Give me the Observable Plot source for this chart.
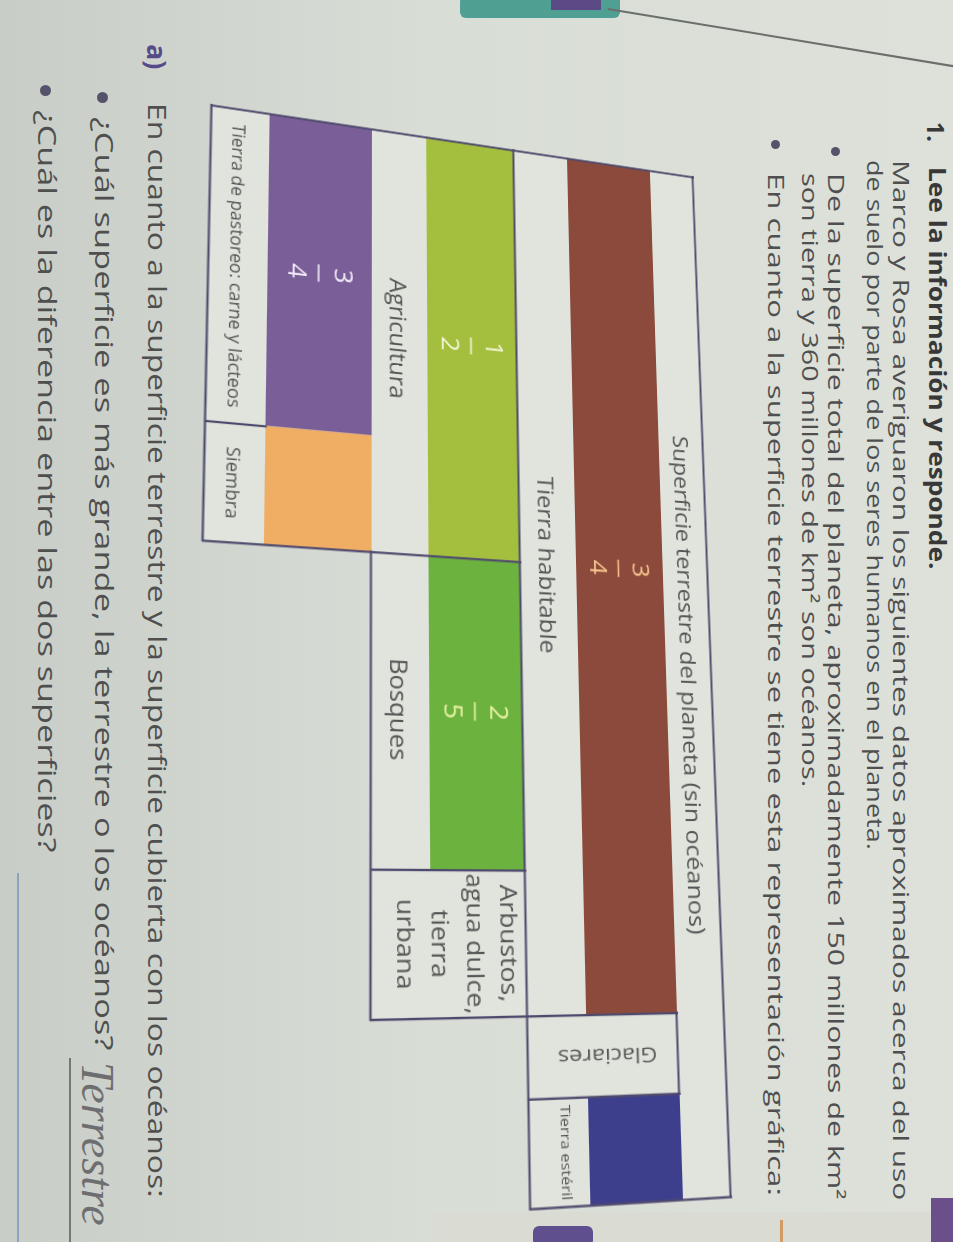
<!DOCTYPE html>
<html><head><meta charset="utf-8">
<script src="https://cdn.jsdelivr.net/npm/d3@7"></script>
<script src="https://cdn.jsdelivr.net/npm/@observablehq/plot@0.6"></script>
<style>
html,body{margin:0;padding:0;width:953px;height:1242px;overflow:hidden;background:#d3d8d1;}
#page{position:absolute;left:0;top:0;width:1242px;height:953px;transform-origin:0 0;transform:translate(953px,0) rotate(90deg);overflow:hidden;
 background:linear-gradient(to bottom,#dde1da 0%,#d8ddd6 55%,#c8cec7 100%);font-family:"Open Sans",sans-serif;color:#4e4e4e;}
.t{position:absolute;white-space:nowrap;}
.dot{position:absolute;border-radius:50%;background:#55536a;}
#chart{position:absolute;left:0;top:240px;}
</style></head><body><div id="page"></div>
<script>
// ---------- data ----------
const titulo = "Superficie terrestre del planeta (sin océanos)";
const superficie = ["Tierra habitable", "Glaciares", "Tierra estéril"];
const superficieParte = [0.835, 0.072, 0.093];
const superficieFraccion = ["3/4", "", ""];
const habitable = ["Agricultura", "Bosques", "Arbustos,\nagua dulce,\ntierra\nurbana"];
const habitableParte = [0.50, 0.345, 0.155];
const habitableFraccion = ["1/2", "2/5", ""];
const agricultura = ["Tierra de pastoreo: carne y lácteos", "Siembra"];
const agriculturaParte = [0.735, 0.265];
const agriculturaFraccion = ["3/4", ""];

// ---------- styles ----------
const colores = {
  "Tierra habitable": "#8b4a3b",
  "Tierra estéril": "#3d3f8d",
  "Agricultura": "#a4bf3e",
  "Bosques": "#6bb23f",
  "Tierra de pastoreo: carne y lácteos": "#7a5e98",
  "Siembra": "#f0ad64"
};
const colorFraccion = {
  "Tierra habitable": "#f6c48e",
  "Agricultura": "#f3f4d2",
  "Bosques": "#e8f2a2",
  "Tierra de pastoreo: carne y lácteos": "#f1e9f7"
};
const LINEA = "#4f4a6d", TEXTO = "#555555", CAJA = "#e0e4dd";

// ---------- page text ----------
const page = document.getElementById("page");
function txt(t, u, v, fs, opt = {}) {
  const d = document.createElement("div");
  d.className = "t";
  d.textContent = t;
  const lh = Math.round(fs * 1.3);
  Object.assign(d.style, {left: u + "px", top: (v - lh / 2) + "px", fontSize: fs + "px", lineHeight: lh + "px",
    fontWeight: opt.w || 400, color: opt.c || "#4f4f4f", fontStyle: opt.i ? "italic" : "normal", fontFamily: opt.f || ""});
  page.appendChild(d);
  if (opt.end) {
    const w = d.offsetWidth;
    d.style.transformOrigin = "0 50%";
    d.style.transform = `scaleX(${(opt.end - u) / w})`;
  }
  return d;
}
function dot(u, v, r) {
  const d = document.createElement("div");
  d.className = "dot";
  Object.assign(d.style, {left: (u - r) + "px", top: (v - r) + "px", width: 2 * r + "px", height: 2 * r + "px"});
  page.appendChild(d);
}
function box(u, v, w, h, css) {
  const d = document.createElement("div");
  Object.assign(d.style, {position: "absolute", left: u + "px", top: v + "px", width: w + "px", height: h + "px"}, css);
  page.appendChild(d);
  return d;
}

txt("1.", 122, 17, 23, {w: 700, c: "#383838"});
txt("Lee la información y responde.", 167, 15, 23, {w: 700, c: "#383838", end: 570});
txt("Marco y Rosa averiguaron los siguientes datos aproximados acerca del uso", 160, 51, 22, {end: 1200});
txt("de suelo por parte de los seres humanos en el planeta.", 160, 77, 22, {end: 850});
dot(151, 117, 4.5);
txt("De la superficie total del planeta, aproximadamente 150 millones de km²", 173, 116, 22, {end: 1200});
txt("son tierra y 360 millones de km² son océanos.", 173, 142, 22, {end: 787});
dot(144, 177, 4.5);
txt("En cuanto a la superficie terrestre se tiene esta representación gráfica:", 173, 176, 22, {end: 1195});
txt("a)", 44, 795, 27, {w: 700, c: "#564a88"});
txt("En cuanto a la superficie terrestre y la superficie cubierta con los océanos:", 103, 795, 26, {end: 1197});
dot(97, 850, 5.5);
txt("¿Cuál superficie es más grande, la terrestre o los océanos?", 117, 848, 26, {end: 1050});
dot(90, 907, 5.5);
txt("¿Cuál es la diferencia entre las dos superficies?", 110, 905, 26, {end: 853});
txt("Terrestre", 1062, 856, 46, {c: "#6e6e70", i: true, f: "'Liberation Serif', serif"});
box(1058, 882, 190, 2, {background: "#77777a"});
box(873, 934, 380, 1.5, {background: "#8aa3bf"});
// photo surroundings
box(1212, 0, 40, 520, {background: "#dadbd2"});
box(1220, 170, 30, 3, {background: "#d39a63"});
box(1228, 380, 30, 3, {background: "#d39a63"});
box(1226, 360, 20, 60, {background: "#5f4f8e", borderRadius: "6px"});
box(1198, 0, 50, 22, {background: "#6a4f8a"});
box(-4, 333, 22, 160, {background: "#4f9f92", borderRadius: "6px"});
box(-4, 352, 14, 50, {background: "#5b4a86"});
box(8, 345, 350, 1.5, {background: "#6b6f6b", transformOrigin: "0 0", transform: "rotate(-80.6deg)"});

// ---------- chart ----------
const CH_TOP = 240, CH_H = 505, XL = 135, XR = 1186;
const R = {header: [260, 307], bar1: [307, 395], label1: [395, 450], bar2: [450, 538],
           label2: [538, 591], bar3: [591, 688], label3: [688, 741]};
const mid = k => (R[k][0] + R[k][1]) / 2;

function tramos(names, parts, fracs, start, span, bar, label) {
  let acc = start;
  return names.map((name, i) => {
    const x1 = acc; acc += parts[i] * span;
    return {name, x1, x2: acc, mid: (x1 + acc) / 2, frac: fracs[i], bar, label};
  });
}
const L1 = tramos(superficie, superficieParte, superficieFraccion, 0, 1, "bar1", "label1");
const hab = L1[0], gla = L1[1];
const L2 = tramos(habitable, habitableParte, habitableFraccion, hab.x1, hab.x2 - hab.x1, "bar2", "label2");
const agr = L2[0], bos = L2[1];
const L3 = tramos(agricultura, agriculturaParte, agriculturaFraccion, agr.x1, agr.x2 - agr.x1, "bar3", "label3");
const pas = L3[0];
const todos = [...L1, ...L2, ...L3];
const barras = todos.filter(d => colores[d.name]);
const cajas = todos.filter(d => !colores[d.name]);
const etiquetas = barras.filter(d => d.name !== "Tierra estéril");
const esteril = barras.filter(d => d.name === "Tierra estéril");
const fracciones = todos.filter(d => d.frac);

const fondo = [
  {x1: 0, x2: 1, y1: R.header[0], y2: R.bar2[0]},
  {x1: 0, x2: hab.x2, y1: R.bar2[0], y2: R.label2[1]},
  {x1: 0, x2: agr.x2, y1: R.label2[1], y2: R.label3[1]}
];
const hLines = [
  {y: R.header[0], x1: 0, x2: 1},
  {y: R.bar2[0], x1: 0, x2: 1},
  {y: R.bar1[0], x1: gla.x1, x2: gla.x2},
  {y: R.label2[1], x1: agr.x2, x2: hab.x2},
  {y: R.label3[1], x1: 0, x2: agr.x2}
];
const vLines = [
  {x: 0, y1: R.header[0], y2: R.label3[1]},
  {x: 1, y1: R.header[0], y2: R.bar2[0]},
  {x: gla.x1, y1: R.bar1[0], y2: R.label2[1]},
  {x: gla.x2, y1: R.bar1[0], y2: R.bar2[0]},
  {x: bos.x2, y1: R.bar2[0], y2: R.label2[1]},
  {x: agr.x2, y1: R.bar2[0], y2: R.label3[1]},
  {x: pas.x2, y1: R.label3[0], y2: R.label3[1]}
];
const half = 9 / (XR - XL);

const chart = Plot.plot({
  width: 1242, height: CH_H, margin: 0,
  x: {domain: [0, 1], range: [XL, XR], axis: null},
  y: {domain: [CH_TOP, CH_TOP + CH_H], range: [0, CH_H], axis: null},
  color: {type: "identity"},
  style: {background: "transparent", fontFamily: "'Open Sans', sans-serif", overflow: "visible"},
  marks: [
    Plot.rect(fondo, {x1: "x1", x2: "x2", y1: "y1", y2: "y2", fill: CAJA}),
    Plot.rect(barras, {x1: "x1", x2: "x2", y1: d => R[d.bar][0], y2: d => R[d.bar][1], fill: d => colores[d.name]}),
    Plot.ruleY(hLines, {y: "y", x1: "x1", x2: "x2", stroke: LINEA, strokeWidth: 2.2, strokeLinecap: "square"}),
    Plot.ruleX(vLines, {x: "x", y1: "y1", y2: "y2", stroke: LINEA, strokeWidth: 2.2, strokeLinecap: "square"}),
    Plot.text([titulo], {x: () => 0.5, y: () => mid("header") + 1, text: d => d, dx: 22, fontSize: 21, fill: TEXTO, lineAnchor: "middle"}),
    Plot.text(etiquetas, {x: "mid", y: d => mid(d.label) + 2, text: "name", fontSize: d => d.label === "label3" ? 15.5 : 21, fill: TEXTO, lineAnchor: "middle"}),
    Plot.text(esteril, {x: "mid", y: d => mid(d.label) - 6, text: "name", fontSize: 12.5, fill: TEXTO, lineAnchor: "middle"}),
    Plot.text(cajas.filter(d => d.bar === "bar1"), {x: "mid", y: d => (R.bar1[0] + R.label1[1]) / 2 - 4, text: "name", rotate: 90, fontSize: 19, fill: TEXTO, lineAnchor: "middle"}),
    Plot.text(cajas.filter(d => d.bar === "bar2"), {x: "mid", y: d => (R.bar2[0] + R.label2[1]) / 2 - 10, text: "name", fontSize: 21, lineHeight: 1.5, fill: TEXTO, lineAnchor: "middle"}),
    Plot.text(fracciones, {x: "mid", y: d => mid(d.bar) - 21, text: d => d.frac.split("/")[0], fontSize: 23, fill: d => colorFraccion[d.name], lineAnchor: "middle"}),
    Plot.text(fracciones, {x: "mid", y: d => mid(d.bar) + 22, text: d => d.frac.split("/")[1], fontSize: 23, fill: d => colorFraccion[d.name], lineAnchor: "middle"}),
    Plot.ruleY(fracciones, {y: d => mid(d.bar) + 1, x1: d => d.mid - half, x2: d => d.mid + half, stroke: d => colorFraccion[d.name], strokeWidth: 1.6})
  ]
});
chart.id = "chart";
page.appendChild(chart);

// widen chart lettering like the book's geometric type
chart.querySelectorAll("text").forEach(t => {
  const spans = t.querySelectorAll("tspan");
  (spans.length ? [...spans] : [t]).forEach(el => {
    const L = el.getComputedTextLength();
    if (L > 0) { el.setAttribute("textLength", (L * 1.17).toFixed(1)); el.setAttribute("lengthAdjust", "spacingAndGlyphs"); }
  });
});

// photo perspective: projective map from the flat layout to the photographed page
function homography(src, dst) {
  const A = [], b = [];
  for (let i = 0; i < 4; i++) {
    const [x, y] = src[i], [X, Y] = dst[i];
    A.push([x, y, 1, 0, 0, 0, -x * X, -y * X]); b.push(X);
    A.push([0, 0, 0, x, y, 1, -x * Y, -y * Y]); b.push(Y);
  }
  const n = 8;
  for (let i = 0; i < n; i++) {
    let p = i;
    for (let r = i + 1; r < n; r++) if (Math.abs(A[r][i]) > Math.abs(A[p][i])) p = r;
    [A[i], A[p]] = [A[p], A[i]]; [b[i], b[p]] = [b[p], b[i]];
    for (let r = i + 1; r < n; r++) {
      const f = A[r][i] / A[i][i];
      for (let c = i; c < n; c++) A[r][c] -= f * A[i][c];
      b[r] -= f * b[i];
    }
  }
  const h = new Array(n);
  for (let i = n - 1; i >= 0; i--) {
    let s = b[i];
    for (let c = i + 1; c < n; c++) s -= A[i][c] * h[c];
    h[i] = s / A[i][i];
  }
  return h;
}
const flat = [[XL, R.header[0] - CH_TOP], [XL, R.label3[1] - CH_TOP], [1013, R.bar1[0] - CH_TOP], [1013, R.label2[1] - CH_TOP]];
const photo = [[177, 260 - CH_TOP], [105, 741 - CH_TOP], [1013, 276 - CH_TOP], [1020, 582 - CH_TOP]];
const [a, b, c, d, e, f, g, h] = homography(flat, photo);
chart.style.transformOrigin = "0 0";
chart.style.transform = `matrix3d(${a},${d},0,${g},${b},${e},0,${h},0,0,1,0,${c},${f},0,1)`;
</script></body></html>
